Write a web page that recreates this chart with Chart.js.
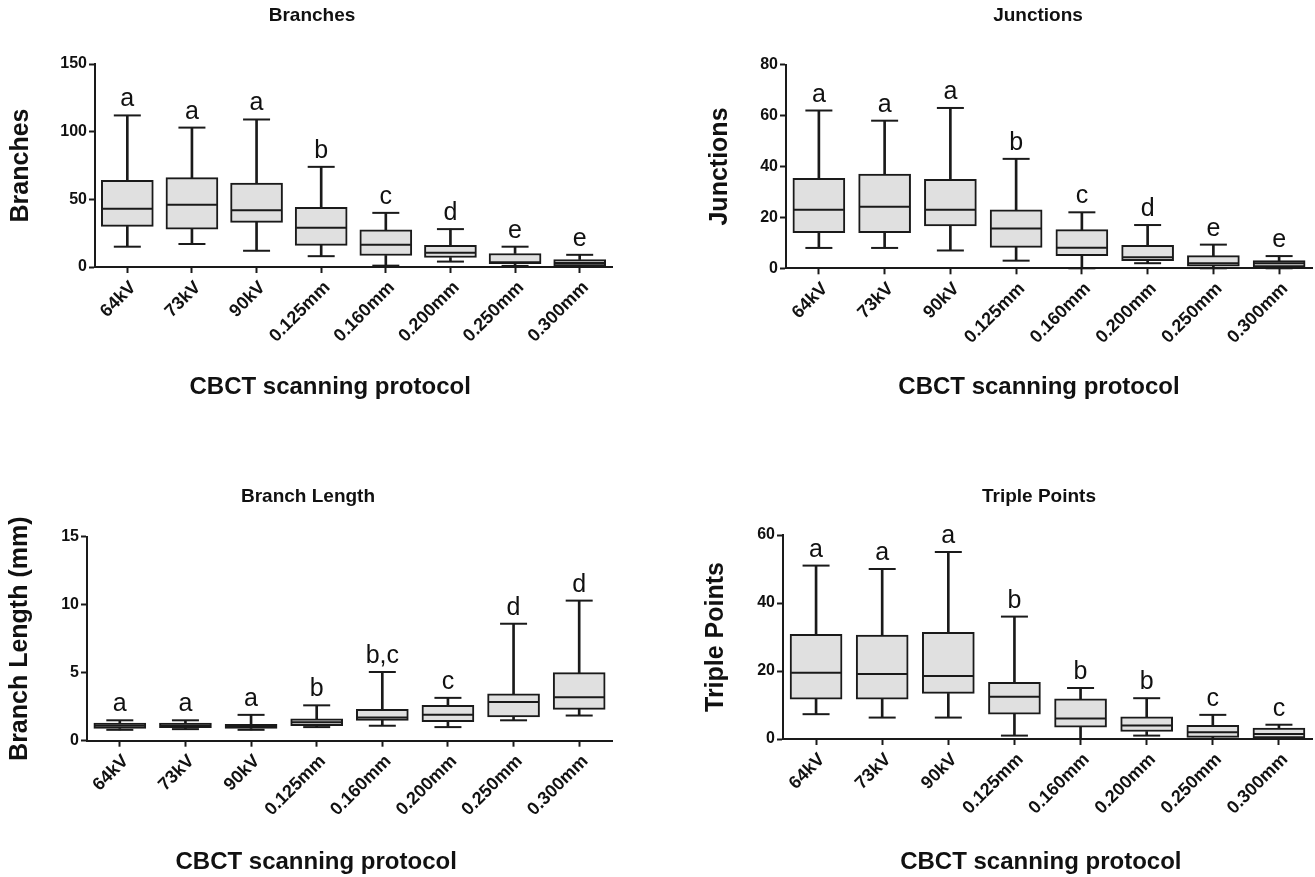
<!DOCTYPE html>
<html>
<head>
<meta charset="utf-8">
<script src="https://cdn.jsdelivr.net/npm/chart.js@4.4.1/dist/chart.umd.min.js"></script>
<style>
  html, body { margin:0; padding:0; background:#fff; width:1315px; height:877px; overflow:hidden; position:relative; }
  canvas { position:absolute; }
</style>
</head>
<body>
<canvas id="c1"></canvas>
<canvas id="c2"></canvas>
<canvas id="c3"></canvas>
<canvas id="c4"></canvas>
<script>
// ---------- data ----------
const categories = ['64kV','73kV','90kV','0.125mm','0.160mm','0.200mm','0.250mm','0.300mm'];

const branchesMin = [15, 17, 12, 8, 1, 4, 0.8, 0.5];
const branchesQ1  = [30, 28, 33, 16, 8.5, 7, 2.5, 0.8];
const branchesMed = [43, 46, 42, 29, 16.5, 10.5, 3.5, 3];
const branchesQ3  = [64, 66, 62, 44, 27.5, 16, 10, 5.5];
const branchesMax = [112, 103, 109, 74, 40, 28, 15, 9];
const branchesLetters = ['a','a','a','b','c','d','e','e'];

const junctionsMin = [8, 8, 7, 3, 0, 2, 0, 0];
const junctionsQ1  = [14, 14, 16.7, 8.2, 5, 3, 0.8, 0.5];
const junctionsMed = [23, 24.2, 23, 15.6, 8.1, 4.3, 2, 2];
const junctionsQ3  = [35.4, 37, 35, 23, 15.2, 9, 5, 3];
const junctionsMax = [62, 58, 63, 43, 22, 17, 9.3, 4.8];
const junctionsLetters = ['a','a','a','b','c','d','e','e'];

const lengthMin = [0.8, 0.85, 0.8, 1.0, 1.1, 1.0, 1.5, 1.85];
const lengthQ1  = [0.9, 0.95, 0.9, 1.1, 1.5, 1.4, 1.75, 2.3];
const lengthMed = [1.1, 1.1, 1.05, 1.35, 1.7, 1.9, 2.85, 3.2];
const lengthQ3  = [1.3, 1.3, 1.2, 1.6, 2.3, 2.6, 3.45, 5.0];
const lengthMax = [1.5, 1.5, 1.9, 2.6, 5.05, 3.15, 8.6, 10.3];
const lengthLetters = ['a','a','a','b','b,c','c','d','d'];

const tripleMin = [7.3, 6.3, 6.3, 1, 0, 1, 0, 0];
const tripleQ1  = [11.7, 11.7, 13.4, 7.3, 3.5, 2.2, 0.5, 0.3];
const tripleMed = [19.5, 19.1, 18.5, 12.4, 6, 4, 2, 1.5];
const tripleQ3  = [30.8, 30.6, 31.4, 16.7, 11.8, 6.5, 4, 3.2];
const tripleMax = [51, 50, 55, 36, 15, 12, 7.1, 4.2];
const tripleLetters = ['a','a','a','b','b','b','c','c'];

const xAxisTitle = 'CBCT scanning protocol';

// ---------- rendering ----------
const FONT = "'Liberation Sans', Arial, Helvetica, sans-serif";
const INK = '#1a1a1a';
const BOX_FILL = '#e0e0e0';

const lettersPlugin = {
  id: 'letters',
  afterDatasetsDraw(chart, args, opts) {
    const { ctx } = chart;
    const x = chart.scales.x, y = chart.scales.y;
    ctx.save();
    ctx.font = '25px ' + FONT;
    ctx.fillStyle = '#111';
    ctx.textAlign = 'center';
    ctx.textBaseline = 'alphabetic';
    opts.letters.forEach((t, i) => {
      ctx.fillText(t, x.getPixelForValue(i), y.getPixelForValue(opts.max[i]) - 9);
    });
    ctx.restore();
  }
};

function makePanel(id, g, d) {
  const cv = document.getElementById(id);
  cv.width = g.w; cv.height = g.h;
  cv.style.left = g.left + 'px'; cv.style.top = g.top + 'px';
  cv.style.width = g.w + 'px'; cv.style.height = g.h + 'px';

  const pointDs = (label, data, r) => ({
    type: 'line', label, data, showLine: false, pointStyle: 'line',
    pointRadius: r, pointHoverRadius: r, pointBorderWidth: 2,
    pointBorderColor: INK, pointBackgroundColor: INK, borderColor: INK,
    clip: false, order: 0
  });

  new Chart(cv.getContext('2d'), {
    type: 'bar',
    data: {
      labels: categories,
      datasets: [
        pointDs('median', d.med, 25),
        pointDs('max', d.max, 13.5),
        pointDs('min', d.min, 13.5),
        { type: 'bar', label: 'box', data: d.q1.map((v, i) => [v, d.q3[i]]),
          backgroundColor: BOX_FILL, borderColor: INK, borderWidth: 2, borderSkipped: false,
          barThickness: 52, grouped: false, order: 1 },
        { type: 'bar', label: 'whiskerLow', data: d.min.map((v, i) => [v, d.q1[i]]),
          backgroundColor: INK, borderWidth: 0, barThickness: 2, grouped: false, order: 2 },
        { type: 'bar', label: 'whiskerHigh', data: d.q3.map((v, i) => [v, d.max[i]]),
          backgroundColor: INK, borderWidth: 0, barThickness: 2, grouped: false, order: 2 }
      ]
    },
    options: {
      responsive: false,
      animation: false,
      devicePixelRatio: 1,
      layout: { padding: 0 },
      events: [],
      plugins: {
        legend: { display: false },
        tooltip: { enabled: false },
        title: {
          display: true, text: d.title, color: '#111',
          font: { family: FONT, size: 19, weight: 'bold', lineHeight: 1.2 },
          padding: { top: g.titleTop, bottom: g.titleBottom }
        },
        letters: { letters: d.letters, max: d.max }
      },
      scales: {
        x: {
          offset: true,
          grid: { display: true, drawOnChartArea: false, drawTicks: true, tickLength: 6,
                  tickWidth: 2, tickColor: INK, offset: false },
          border: { display: true, color: INK, width: 2 },
          ticks: { minRotation: 45, maxRotation: 45, autoSkip: false, color: '#111', padding: 4,
                   labelOffset: 6,
                   font: { family: FONT, size: 18, weight: 'bold' } },
          title: { display: true, text: xAxisTitle + g.xTitlePad, color: '#111',
                   font: { family: FONT, size: 24, weight: 'bold', lineHeight: 1.2 },
                   padding: { top: 0, bottom: g.xTitleBottom } },
          afterFit: s => { s.height = g.xAxisH; s.paddingLeft = 0; s.paddingRight = 0; }
        },
        y: {
          min: 0, max: d.yMax,
          grid: { display: true, drawOnChartArea: false, drawTicks: true, tickLength: 6,
                  tickWidth: 2, tickColor: INK },
          border: { display: true, color: INK, width: 2 },
          ticks: { stepSize: d.yStep, color: '#111', padding: 2,
                   font: { family: FONT, size: 16, weight: 'bold' } },
          title: { display: true, text: d.yTitle, color: '#111',
                   font: { family: FONT, size: 25, weight: 'bold', lineHeight: 1.2 },
                   padding: { top: g.yTitlePad, bottom: 0 } },
          afterFit: s => { s.width = g.yAxisW; }
        },
        y2: {
          position: 'right', display: true,
          grid: { display: false }, border: { display: false },
          ticks: { display: false },
          afterFit: s => { s.width = g.rightW; s.paddingTop = 0; s.paddingBottom = 0; }
        }
      }
    },
    plugins: [lettersPlugin]
  });
}

const sp = n => ' '.repeat(n);

makePanel('c1',
  { left: -28, top: 0, w: 680, h: 420, titleTop: 4.2, titleBottom: 37, xAxisH: 153, xTitleBottom: 18.6,
    yAxisW: 123, rightW: 40, yTitlePad: 34, xTitlePad: sp(7) },
  { title: 'Branches', yTitle: 'Branches', yMax: 150, yStep: 50,
    min: branchesMin, q1: branchesQ1, med: branchesMed, q3: branchesQ3, max: branchesMax, letters: branchesLetters });

makePanel('c2',
  { left: 700, top: 0, w: 676, h: 420, titleTop: 4.2, titleBottom: 37.7, xAxisH: 151.7, xTitleBottom: 18.6,
    yAxisW: 86, rightW: 64, yTitlePad: 5, xTitlePad: sp(3) },
  { title: 'Junctions', yTitle: 'Junctions', yMax: 80, yStep: 20,
    min: junctionsMin, q1: junctionsQ1, med: junctionsMed, q3: junctionsQ3, max: junctionsMax, letters: junctionsLetters });

makePanel('c3',
  { left: -36, top: 470, w: 688, h: 407, titleTop: 15, titleBottom: 28.9, xAxisH: 136.3, xTitleBottom: 0,
    yAxisW: 123, rightW: 40, yTitlePad: 41, xTitlePad: sp(10) },
  { title: 'Branch Length', yTitle: 'Branch Length (mm)', yMax: 15, yStep: 5,
    min: lengthMin, q1: lengthQ1, med: lengthMed, q3: lengthQ3, max: lengthMax, letters: lengthLetters });

makePanel('c4',
  { left: 700, top: 470, w: 678, h: 407, titleTop: 15, titleBottom: 27.2, xAxisH: 138, xTitleBottom: 0,
    yAxisW: 83, rightW: 66, yTitlePad: 1, xTitlePad: sp(2) },
  { title: 'Triple Points', yTitle: 'Triple Points', yMax: 60, yStep: 20,
    min: tripleMin, q1: tripleQ1, med: tripleMed, q3: tripleQ3, max: tripleMax, letters: tripleLetters });
</script>
</body>
</html>
